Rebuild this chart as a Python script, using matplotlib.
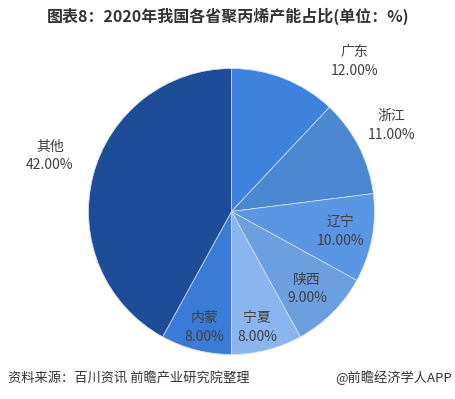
import matplotlib
matplotlib.use('Agg')
import matplotlib.pyplot as plt

plt.rcParams['font.family'] = ['Noto Sans CJK SC', 'DejaVu Sans']

# data (clockwise from 12 o'clock)
provinces = ['广东', '浙江', '辽宁', '陕西', '宁夏', '内蒙', '其他']
shares = [12, 11, 10, 9, 8, 8, 42]
colors = ['#3d82dc', '#4c88d2', '#5b96e4', '#6c9fdf', '#8bb5ef', '#3b7bd8', '#1d4c98']

# label positions (data units, pie radius = 1)
label_xy = [(0.86, 1.05), (1.12, 0.60), (0.76, -0.14), (0.53, -0.54),
            (0.18, -0.81), (-0.19, -0.81), (-1.27, 0.39)]

W, H = 456, 399
cx, cy, R = 231.5, 211.5, 143.0

fig = plt.figure(figsize=(W / 100, H / 100), dpi=100)
ax = fig.add_axes([0, 0, 1, 1])
ax.pie(shares, colors=colors, startangle=90, counterclock=False, radius=1,
       wedgeprops=dict(edgecolor='#dbe6f5', linewidth=0.5))
ax.set_xlim(-cx / R, (W - cx) / R)
ax.set_ylim(-(H - cy) / R, cy / R)
ax.set_aspect('auto')
ax.axis('off')

for name, val, (x, y) in zip(provinces, shares, label_xy):
    ax.text(x, y + 0.065, name, ha='center', va='center', fontsize=10, color='#404040')
    ax.text(x, y - 0.065, f'{val:.2f}%', ha='center', va='center', fontsize=10, color='#404040')

fig.text(0.5, 1 - 16 / H, '图表8：2020年我国各省聚丙烯产能占比(单位：%)', ha='center', va='center',
         fontsize=11.5, fontweight='bold', color='#333333')
fig.text(8 / W, 1 - 378 / H, '资料来源：百川资讯 前瞻产业研究院整理', ha='left', va='center',
         fontsize=9.5, color='#333333')
fig.text(452 / W, 1 - 378 / H, '@前瞻经济学人APP', ha='right', va='center',
         fontsize=9.5, color='#333333')

fig.savefig('out.png', dpi=100)
